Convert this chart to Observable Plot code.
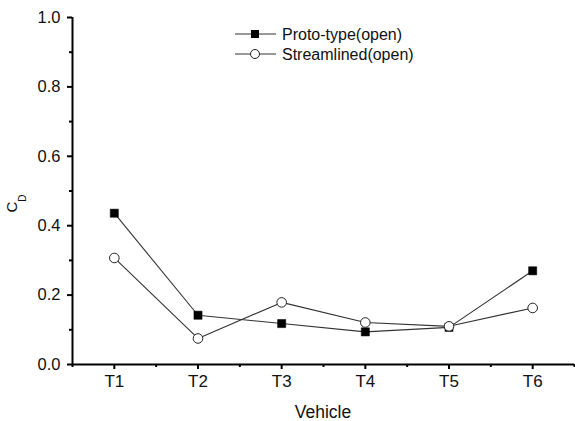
<!DOCTYPE html>
<html>
<head>
<meta charset="utf-8">
<script src="https://cdn.jsdelivr.net/npm/d3@7"></script>
<script src="https://cdn.jsdelivr.net/npm/@observablehq/plot@0.6"></script>
<style>
  html, body { margin: 0; padding: 0; background: #fff; }
  #chart { position: relative; width: 575px; height: 421px; }
  svg { font-family: "Liberation Sans", Arial, sans-serif; }
</style>
</head>
<body>
<div id="chart"></div>
<script>
const categories = ["T1", "T2", "T3", "T4", "T5", "T6"];
const protoType = [0.436, 0.142, 0.118, 0.094, 0.107, 0.270];
const streamlined = [0.307, 0.075, 0.179, 0.121, 0.110, 0.163];
const seriesNames = ["Proto-type(open)", "Streamlined(open)"];
const yTicks = [0, 0.2, 0.4, 0.6, 0.8, 1.0];
const yMinor = [0.1, 0.3, 0.5, 0.7, 0.9];

const idx = categories.map((c, i) => i + 1);
const xMinor = [0.5, 1.5, 2.5, 3.5, 4.5, 5.5, 6.5];
const protoData = categories.map((c, i) => ({x: i + 1, y: protoType[i]}));
const streamData = categories.map((c, i) => ({x: i + 1, y: streamlined[i]}));

const W = 575, H = 421;
const plot = Plot.plot({
  width: W,
  height: H,
  marginLeft: 72,
  marginRight: 1,
  marginTop: 17,
  marginBottom: 57,
  style: {fontFamily: "Liberation Sans, Arial, sans-serif", fontSize: "16px", color: "#000", background: "#fff"},
  x: {type: "linear", domain: [0.5, 6.5], axis: null},
  y: {domain: [0, 1], axis: null},
  marks: [
    Plot.axisX({ticks: idx, tickFormat: d => categories[d - 1], tickSize: 5, stroke: "#000", strokeWidth: 2, strokeOpacity: 1, tickPadding: 5, fontSize: 17, fill: "#111", label: null}),
    Plot.axisX({ticks: xMinor, text: null, tickSize: 3, stroke: "#000", strokeWidth: 2, strokeOpacity: 1, label: null}),
    Plot.axisY({ticks: yTicks, tickFormat: d3.format(".1f"), tickSize: 5, stroke: "#000", strokeWidth: 2, strokeOpacity: 1, tickPadding: 7, fontSize: 16.5, fill: "#111", label: null}),
    Plot.axisY({ticks: yMinor, text: null, tickSize: 3, stroke: "#000", strokeWidth: 2, strokeOpacity: 1, label: null}),
    Plot.ruleX([0.5], {stroke: "#000", strokeWidth: 2}),
    Plot.ruleY([0], {stroke: "#000", strokeWidth: 2}),
    Plot.line(protoData, {x: "x", y: "y", stroke: "#333", strokeWidth: 1.1}),
    Plot.line(streamData, {x: "x", y: "y", stroke: "#333", strokeWidth: 1.1}),
    Plot.dot(protoData, {x: "x", y: "y", symbol: "square", r: 4.6, fill: "#000", stroke: "#000", strokeWidth: 0.5}),
    Plot.dot(streamData, {x: "x", y: "y", symbol: "circle", r: 4.8, fill: "#fff", stroke: "#222", strokeWidth: 1})
  ]
});

const svg = d3.select(plot);
const xs = plot.scale("x"), ys = plot.scale("y");
// Axis titles
svg.append("text")
  .attr("x", (xs.apply(0.5) + xs.apply(6.5)) / 2)
  .attr("y", 418)
  .attr("text-anchor", "middle")
  .attr("font-size", 17.5)
  .attr("fill", "#111")
  .text("Vehicle");
const yl = svg.append("text")
  .attr("transform", `translate(17,${ys.apply(0.5) + 13}) rotate(-90)`)
  .attr("text-anchor", "middle")
  .attr("font-size", 15)
  .attr("fill", "#111");
yl.append("tspan").text("C");
yl.append("tspan").attr("font-size", 10).attr("dy", 9).text("D");

// Legend
const lg = svg.append("g").attr("font-size", 16).attr("fill", "#111").attr("text-anchor", "start");
seriesNames.forEach((name, i) => {
  const y = 34 + i * 20;
  lg.append("line").attr("x1", 235).attr("x2", 276).attr("y1", y).attr("y2", y).attr("stroke", "#333").attr("stroke-width", 1);
  if (i === 0) {
    lg.append("rect").attr("x", 251).attr("y", y - 4).attr("width", 8).attr("height", 8).attr("fill", "#000");
  } else {
    lg.append("circle").attr("cx", 255).attr("cy", y).attr("r", 4.5).attr("fill", "#fff").attr("stroke", "#222");
  }
  lg.append("text").attr("x", 282).attr("y", y + 6).attr("text-anchor", "start").text(name);
});

document.getElementById("chart").appendChild(plot);
</script>
</body>
</html>
